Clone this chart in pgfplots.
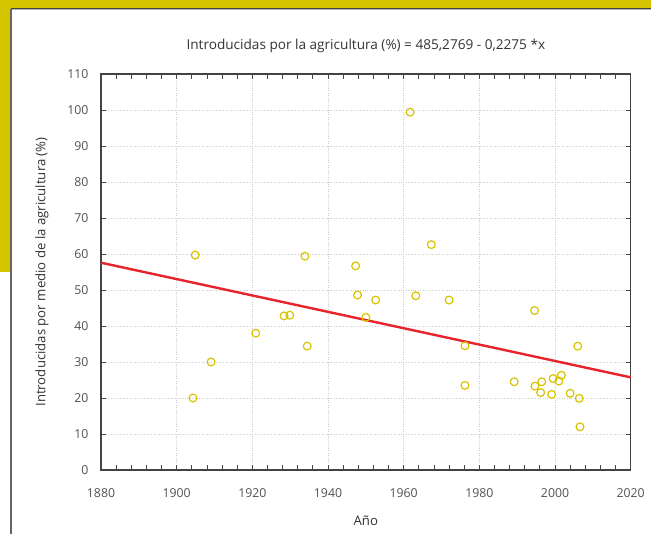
\documentclass[border=0pt]{standalone}
\usepackage{fontspec}
\setmainfont{Open Sans}
\usepackage{pgfplots}
\pgfplotsset{compat=1.18}
\definecolor{frameyel}{HTML}{D5C500}
\definecolor{ptyel}{HTML}{D9C300}
\definecolor{fitred}{HTML}{E8232B}
\definecolor{txt}{HTML}{333333}
\definecolor{axc}{HTML}{444444}
\pgfplotstableread{
x y
1904.3 20.0
1904.9 59.7
1909.1 30.0
1920.9 38.0
1928.4 42.8
1929.9 43.0
1933.9 59.4
1934.5 34.4
1947.3 56.7
1947.8 48.6
1950.0 42.4
1952.6 47.2
1961.7 99.4
1963.2 48.4
1967.3 62.6
1972.0 47.2
1976.2 34.5
1976.2 23.5
1989.2 24.5
1994.6 44.3
1994.7 23.3
1996.2 21.5
1996.5 24.5
1999.1 21.0
1999.5 25.4
2001.0 24.7
2001.7 26.3
2004.0 21.3
2006.0 34.4
2006.4 19.9
2006.6 12.0
}\pts
\begin{document}
\begin{tikzpicture}[x=1pt,y=1pt]
\path[use as bounding box] (0,0) rectangle (651,534);
\fill[frameyel] (0,526) rectangle (651,534);
\fill[frameyel] (0,262) rectangle (10.5,534);
\draw[axc, line width=1.2pt] (10.5,525.4) -- (651,525.4);
\draw[gray!60, line width=0.6pt] (10.5,524.6) -- (651,524.6);
\draw[gray!80!black, line width=1.2pt] (11,0) -- (11,525.4);
\begin{axis}[
  at={(101pt,64pt)}, anchor=south west,
  scale only axis, width=529.7pt, height=396pt,
  xmin=1880, xmax=2020, ymin=0, ymax=110,
  xtick={1880,1900,...,2020}, ytick={0,10,...,110},
  minor x tick num=4,
  tick align=inside,
  major tick length=5pt, minor tick length=5pt,
  every tick/.style={axc, line width=0.8pt},
  axis line style={axc, line width=1.3pt},
  xmajorgrids, ymajorgrids,
  major grid style={dotted, gray!40, line width=0.7pt},
  font=\fontsize{12.3}{14}\selectfont,
  tick label style={text=txt!85},
  /pgf/number format/assume math mode=true,
  /pgf/number format/1000 sep={},
  xticklabel style={anchor=center, yshift=-23pt},
  yticklabel style={anchor=east, xshift=-9pt},
  title={Introducidas por la agricultura (\%) = 485,2769 - 0,2275 *x},
  title style={at={(axis description cs:0.5,1.0556)}, anchor=center, text=txt, font=\fontsize{13.6}{15}\selectfont},
  xlabel={Año},
  xlabel style={at={(axis description cs:0.5,-0.1288)}, anchor=center, text=txt, font=\fontsize{13.2}{15}\selectfont},
  ylabel={Introducidas por medio de la agricultura (\%)},
  ylabel style={at={(axis description cs:-0.1114,0.5)}, anchor=center, rotate=0, text=txt, font=\fontsize{13.2}{15}\selectfont},
  clip=false,
]
\addplot[only marks, mark=o, mark size=3.9pt, mark options={ptyel, line width=1.2pt}] table {\pts};
\addplot[fitred, line width=2.4pt] coordinates {(1880,57.58) (2020,25.73)};
\end{axis}
\end{tikzpicture}
\end{document}
